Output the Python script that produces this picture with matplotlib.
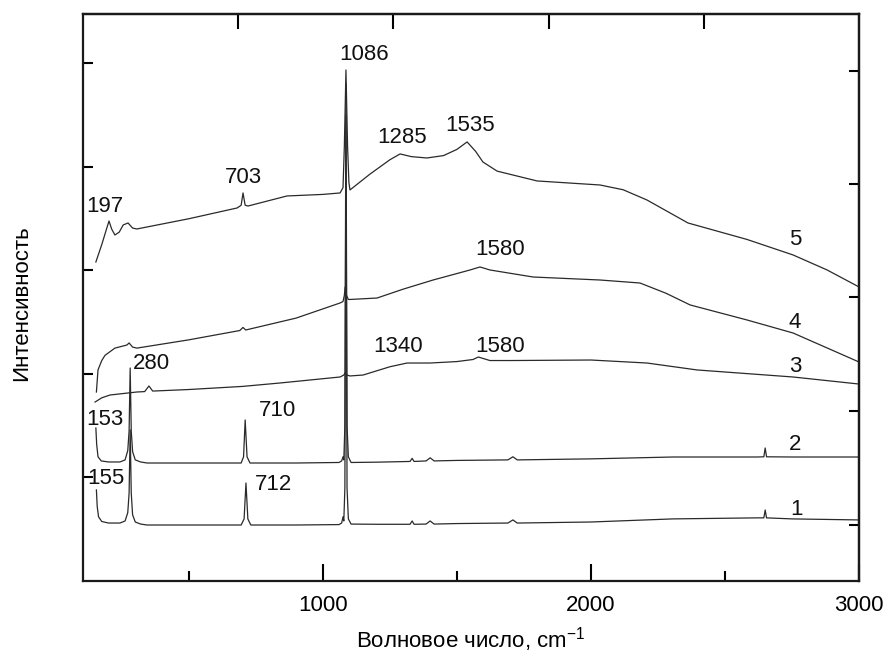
import matplotlib
matplotlib.use("Agg")
import matplotlib.pyplot as plt

plt.rcParams['font.family'] = ['Liberation Sans', 'DejaVu Sans']
plt.rcParams['mathtext.fontset'] = 'custom'
plt.rcParams['mathtext.rm'] = 'Liberation Sans'

# spectra, wavenumber (cm-1) vs intensity (offset, arb. units)
x1 = [155, 158, 163, 175, 200, 243, 262, 272, 277, 281, 285, 290, 300, 320, 344,
      500, 695, 706, 713, 720, 731, 900, 1060, 1070, 1075, 1078, 1082, 1086, 1090,
      1095, 1105, 1200, 1325, 1333, 1340, 1385, 1400, 1415, 1500, 1690, 1709, 1725,
      2000, 2306, 2620, 2645, 2650, 2655, 2750, 3000]
y1 = [0.88, 0.72, 0.62, 0.575, 0.56, 0.56, 0.58, 0.66, 0.85, 1.46, 0.85, 0.64, 0.57,
      0.55, 0.541, 0.541, 0.541, 0.6, 0.947, 0.6, 0.541, 0.541, 0.545, 0.56, 0.62,
      0.58, 0.9, 4.5, 0.9, 0.6, 0.55, 0.548, 0.548, 0.58, 0.548, 0.55, 0.58, 0.55,
      0.555, 0.56, 0.59, 0.56, 0.57, 0.6, 0.61, 0.61, 0.686, 0.61, 0.6, 0.59]

x2 = [153, 156, 161, 173, 200, 243, 262, 272, 277, 281, 285, 290, 300, 320, 344,
      500, 695, 704, 710, 717, 728, 900, 1060, 1070, 1075, 1078, 1082, 1086, 1090,
      1095, 1105, 1200, 1325, 1333, 1340, 1385, 1400, 1415, 1500, 1690, 1709, 1725,
      2000, 2306, 2620, 2645, 2650, 2655, 2750, 3000]
y2 = [1.478, 1.32, 1.2, 1.16, 1.15, 1.15, 1.17, 1.26, 1.45, 2.058, 1.45, 1.25, 1.17,
      1.15, 1.14, 1.14, 1.14, 1.2, 1.556, 1.2, 1.14, 1.14, 1.145, 1.16, 1.2, 1.17,
      1.5, 4.8, 1.5, 1.2, 1.145, 1.148, 1.155, 1.185, 1.155, 1.16, 1.19, 1.16,
      1.165, 1.17, 1.2, 1.17, 1.18, 1.198, 1.198, 1.2, 1.285, 1.2, 1.198, 1.198]

x3 = [150, 175, 206, 306, 335, 351, 365, 500, 700, 840, 1064, 1078, 1083, 1090,
      1101, 1150, 1250, 1314, 1400, 1500, 1560, 1580, 1623, 1700, 2000, 2209, 2396,
      2754, 3000]
y3 = [1.729, 1.77, 1.797, 1.826, 1.83, 1.884, 1.835, 1.85, 1.88, 1.913, 1.971, 1.99,
      2.01, 1.99, 1.981, 1.99, 2.07, 2.106, 2.106, 2.12, 2.14, 2.164, 2.13, 2.13,
      2.135, 2.106, 2.039, 1.971, 1.903]

x4 = [155, 161, 175, 187, 224, 269, 277, 290, 306, 500, 690, 702, 712, 900, 1064,
      1075, 1080, 1083, 1088, 1095, 1101, 1202, 1300, 1411, 1549, 1586, 1623, 1784,
      2034, 2183, 2280, 2370, 2582, 2754, 3000]
y4 = [1.826, 2.04, 2.13, 2.18, 2.25, 2.28, 2.30, 2.26, 2.25, 2.33, 2.42, 2.45, 2.425,
      2.54, 2.686, 2.7, 2.76, 2.84, 2.76, 2.72, 2.72, 2.734, 2.82, 2.908, 3.005,
      3.034, 3.005, 2.937, 2.908, 2.879, 2.78, 2.667, 2.522, 2.396, 2.116]

x5 = [153, 175, 195, 202, 212, 224, 240, 255, 273, 290, 306, 500, 680, 695, 702,
      710, 721, 866, 1000, 1064, 1075, 1080, 1086, 1092, 1097, 1101, 1175, 1250,
      1288, 1330, 1388, 1450, 1500, 1538, 1570, 1597, 1650, 1799, 2034, 2120, 2209,
      2362, 2582, 2754, 2881, 3000]
y5 = [3.082, 3.25, 3.42, 3.478, 3.40, 3.343, 3.37, 3.44, 3.459, 3.41, 3.401, 3.5,
      3.604, 3.63, 3.749, 3.63, 3.623, 3.72, 3.735, 3.749, 3.8, 4.2, 4.937, 4.2, 3.85,
      3.778, 3.93, 4.07, 4.126, 4.10, 4.087, 4.11, 4.17, 4.242, 4.15, 4.048, 3.96,
      3.865, 3.826, 3.78, 3.681, 3.459, 3.3, 3.150, 3.005, 2.841]

spectra = [(x1, y1), (x2, y2), (x3, y3), (x4, y4), (x5, y5)]

# peak labels: text, x, y
peak_text = ['197', '703', '1086', '1285', '1535', '1580', '1340', '1580', '280',
             '153', '710', '155', '712']
peak_x = [187, 702, 1153, 1295, 1549, 1661, 1280, 1661, 362, 187, 829, 191, 814]
peak_y = [3.614, 3.894, 5.082, 4.280, 4.396, 3.198, 2.261, 2.261, 2.097, 1.565,
          1.643, 0.995, 0.928]

curve_names = ['1', '2', '3', '4', '5']
curve_name_x = [2765, 2761, 2761, 2761, 2761]
curve_name_y = [0.686, 1.314, 2.068, 2.502, 3.295]

top_ticks = [683, 1262, 1844, 2422]
right_ticks = [0.54, 1.64, 2.74, 3.84, 4.93]

fig = plt.figure(figsize=(8.9, 6.67), dpi=100)
ax = fig.add_axes([83 / 890, 86 / 667, 776 / 890, 567 / 667])

for xs, ys in spectra:
    ax.plot(xs, ys, color='#2a2a2a', lw=0.9)

fs = 16
for t, px, py in zip(peak_text, peak_x, peak_y):
    ax.text(px, py, t, fontsize=fs, ha='center', va='center', color='#111111')
for t, px, py in zip(curve_names, curve_name_x, curve_name_y):
    ax.text(px, py, t, fontsize=fs, ha='center', va='center', color='#111111')

ax.set_xlim(105, 3000)
ax.set_ylim(0, 5.478)

ax.set_xticks([1000, 2000, 3000])
ax.set_xticks([500, 1500, 2500], minor=True)
ax.set_yticks([1, 2, 3, 4, 5])
ax.set_yticklabels([])
ax.tick_params(axis='x', which='major', direction='in', length=12, width=1.5,
               labelsize=fs, pad=10, top=False)
ax.tick_params(axis='x', which='minor', direction='in', length=7, width=1.5, top=False)
ax.tick_params(axis='y', direction='in', length=7, width=1.5, right=False)

for s in ax.spines.values():
    s.set_linewidth(1.6)
    s.set_color('#1a1a1a')

secx = ax.secondary_xaxis('top', functions=(lambda v: v, lambda v: v))
secx.set_xticks(top_ticks)
secx.set_xticklabels([])
secx.tick_params(direction='in', length=11, width=1.5)
secx.spines['top'].set_linewidth(1.6)

secy = ax.secondary_yaxis('right', functions=(lambda v: v, lambda v: v))
secy.set_yticks(right_ticks)
secy.set_yticklabels([])
secy.tick_params(direction='in', length=7, width=1.5)
secy.spines['right'].set_linewidth(1.6)

ax.set_xlabel('Волновое число, cm$^{\\mathregular{-1}}$', fontsize=fs)
ax.xaxis.set_label_coords(0.5, -0.104)
ax.xaxis.label.set_verticalalignment('center')
ax.set_ylabel('Интенсивность', fontsize=fs)
ax.yaxis.set_label_coords(-0.079, 0.49)
ax.yaxis.label.set_verticalalignment('center')

fig.savefig('out.png', dpi=100)
